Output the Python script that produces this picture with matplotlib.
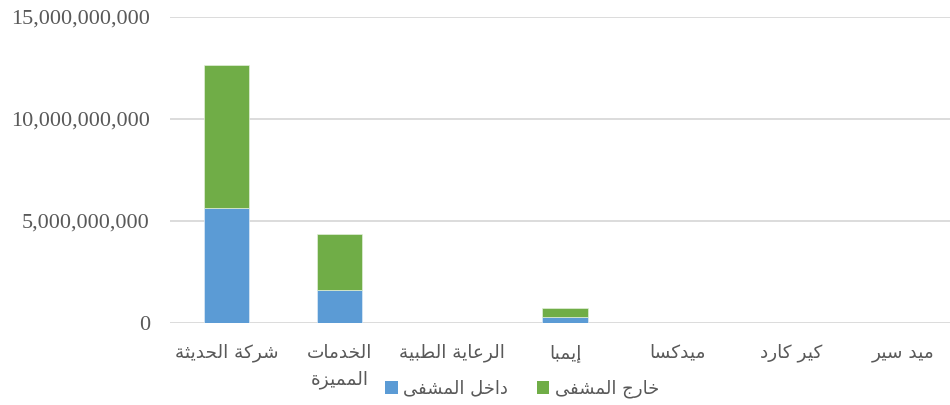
import matplotlib
matplotlib.use("Agg")
import matplotlib.pyplot as plt
from matplotlib.ticker import FuncFormatter
from matplotlib.patches import Patch

# ---------------- data ----------------
categories = ["شركة الحديثة", "الخدمات\nالمميزة", "الرعاية الطبية", "إيمبا", "ميدكسا", "كير كارد", "ميد سير"]
inside_hospital = [5.62e9, 1.62e9, 0, 0.31e9, 0, 0, 0]      # داخل المشفى
outside_hospital = [7.03e9, 2.73e9, 0, 0.44e9, 0, 0, 0]     # خارج المشفى
series_names = ["داخل المشفى", "خارج المشفى"]
y_ticks = [0, 5e9, 10e9, 15e9]

# ---------------- simple Arabic shaping (matplotlib does not shape Arabic) ----------------
FORMS = {
    # letter: (isolated, final, initial, medial)  None = cannot join to next
    'ا': (0xFE8D, 0xFE8E, None, None),
    'إ': (0xFE87, 0xFE88, None, None),
    'أ': (0xFE83, 0xFE84, None, None),
    'آ': (0xFE81, 0xFE82, None, None),
    'ب': (0xFE8F, 0xFE90, 0xFE91, 0xFE92),
    'ة': (0xFE93, 0xFE94, None, None),
    'ت': (0xFE95, 0xFE96, 0xFE97, 0xFE98),
    'ث': (0xFE99, 0xFE9A, 0xFE9B, 0xFE9C),
    'ج': (0xFE9D, 0xFE9E, 0xFE9F, 0xFEA0),
    'ح': (0xFEA1, 0xFEA2, 0xFEA3, 0xFEA4),
    'خ': (0xFEA5, 0xFEA6, 0xFEA7, 0xFEA8),
    'د': (0xFEA9, 0xFEAA, None, None),
    'ذ': (0xFEAB, 0xFEAC, None, None),
    'ر': (0xFEAD, 0xFEAE, None, None),
    'ز': (0xFEAF, 0xFEB0, None, None),
    'س': (0xFEB1, 0xFEB2, 0xFEB3, 0xFEB4),
    'ش': (0xFEB5, 0xFEB6, 0xFEB7, 0xFEB8),
    'ص': (0xFEB9, 0xFEBA, 0xFEBB, 0xFEBC),
    'ض': (0xFEBD, 0xFEBE, 0xFEBF, 0xFEC0),
    'ط': (0xFEC1, 0xFEC2, 0xFEC3, 0xFEC4),
    'ظ': (0xFEC5, 0xFEC6, 0xFEC7, 0xFEC8),
    'ع': (0xFEC9, 0xFECA, 0xFECB, 0xFECC),
    'غ': (0xFECD, 0xFECE, 0xFECF, 0xFED0),
    'ف': (0xFED1, 0xFED2, 0xFED3, 0xFED4),
    'ق': (0xFED5, 0xFED6, 0xFED7, 0xFED8),
    'ك': (0xFED9, 0xFEDA, 0xFEDB, 0xFEDC),
    'ل': (0xFEDD, 0xFEDE, 0xFEDF, 0xFEE0),
    'م': (0xFEE1, 0xFEE2, 0xFEE3, 0xFEE4),
    'ن': (0xFEE5, 0xFEE6, 0xFEE7, 0xFEE8),
    'ه': (0xFEE9, 0xFEEA, 0xFEEB, 0xFEEC),
    'و': (0xFEED, 0xFEEE, None, None),
    'ى': (0xFEEF, 0xFEF0, None, None),
    'ي': (0xFEF1, 0xFEF2, 0xFEF3, 0xFEF4),
}
LAM_ALEF = {'ا': (0xFEFB, 0xFEFC), 'إ': (0xFEF9, 0xFEFA), 'أ': (0xFEF7, 0xFEF8), 'آ': (0xFEF5, 0xFEF6)}


def shape_line(s):
    chars = []
    i = 0
    while i < len(s):
        c = s[i]
        if c == 'ل' and i + 1 < len(s) and s[i + 1] in LAM_ALEF:
            chars.append(('LA', s[i + 1]))
            i += 2
        else:
            chars.append((c, None))
            i += 1

    def joins_next(item):
        c, _ = item
        if c == 'LA':
            return False
        return c in FORMS and FORMS[c][2] is not None

    def is_arabic(item):
        return item[0] == 'LA' or item[0] in FORMS

    out = []
    for k, item in enumerate(chars):
        c, extra = item
        prev_join = k > 0 and is_arabic(chars[k - 1]) and joins_next(chars[k - 1])
        next_exists = k + 1 < len(chars) and is_arabic(chars[k + 1])
        if c == 'LA':
            iso, fin = LAM_ALEF[extra]
            out.append(chr(fin if prev_join else iso))
            continue
        if c not in FORMS:
            out.append(c)
            continue
        iso, fin, ini, med = FORMS[c]
        nj = next_exists and ini is not None
        if prev_join and nj:
            out.append(chr(med))
        elif prev_join:
            out.append(chr(fin))
        elif nj:
            out.append(chr(ini))
        else:
            out.append(chr(iso))
    return ''.join(reversed(out))


def shape(s):
    return '\n'.join(shape_line(line) for line in s.split('\n'))


# ---------------- plot ----------------
text_color = "#595959"
grid_color = "#D9D9D9"
blue = "#5B9BD5"
green = "#70AD47"

fig = plt.figure(figsize=(9.5, 4.05), dpi=100)
ax = fig.add_axes([170 / 950, 82 / 405, 790 / 950, 306.5 / 405])

x = list(range(len(categories)))
ax.bar(x, inside_hospital, width=0.4, color=blue, edgecolor="#DDEBF7", linewidth=0.5, zorder=3)
ax.bar(x, outside_hospital, width=0.4, bottom=inside_hospital, color=green,
       edgecolor="#E2EFDA", linewidth=0.5, zorder=3)

ax.set_xlim(-0.5, len(categories) - 0.5)
ax.set_ylim(0, 15e9)
ax.set_yticks(y_ticks)
ax.yaxis.set_major_formatter(FuncFormatter(lambda v, p: f"{int(v):,}"))
ax.grid(axis="y", color=grid_color, linewidth=1.3, zorder=0)
ax.set_axisbelow(True)
for sp in ax.spines.values():
    sp.set_visible(False)
ax.tick_params(axis="both", length=0, colors=text_color)
ax.tick_params(axis="y", pad=14.5)
for lab in ax.get_yticklabels():
    lab.set_fontfamily("Liberation Serif")
    lab.set_fontsize(16)
    lab.set_color(text_color)

ax.set_xticks(x)
ax.set_xticklabels([shape(c) for c in categories], fontfamily="DejaVu Sans",
                   fontsize=13.3, color=text_color, linespacing=1.6)
ax.tick_params(axis="x", pad=15)

handles = [Patch(facecolor=blue), Patch(facecolor=green)]
fig.legend(handles, [shape(n) for n in series_names], loc="center",
           bbox_to_anchor=(522 / 950, 1 - 389 / 405), ncol=2, frameon=False,
           prop={"family": "DejaVu Sans", "size": 13}, labelcolor=text_color,
           handlelength=0.7, handleheight=0.7, handletextpad=0.3, columnspacing=1.6)

fig.savefig("out.png", dpi=100)
